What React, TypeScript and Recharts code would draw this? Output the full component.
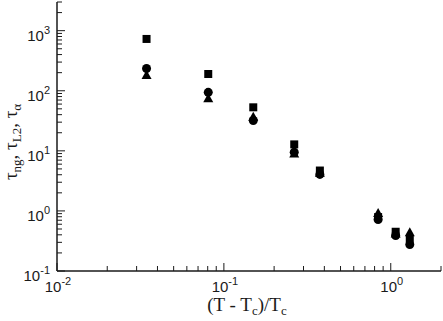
import { ScatterChart, Scatter, XAxis, YAxis, ZAxis, Label } from 'recharts';

// reduced temperature (T - Tc)/Tc
const reducedT = [0.0344, 0.0806, 0.15, 0.264, 0.376, 0.84, 1.07, 1.3];
// relaxation times, one list per marker
const squareTimes = [728, 190, 53, 12.8, 4.7, 0.79, 0.45, 0.34];
const circleTimes = [235, 94, 32, 9.5, 4.05, 0.72, 0.39, 0.275];
const triangleTimes = [182, 75, 37, 9.0, 4.3, 0.92, 0.42, 0.44];

const xTicks = [
  0.01, 0.02, 0.03, 0.04, 0.05, 0.06, 0.07, 0.08, 0.09,
  0.1, 0.2, 0.3, 0.4, 0.5, 0.6, 0.7, 0.8, 0.9,
  1, 2,
];
const yTicks = [
  0.1, 0.2, 0.3, 0.4, 0.5, 0.6, 0.7, 0.8, 0.9,
  1, 2, 3, 4, 5, 6, 7, 8, 9,
  10, 20, 30, 40, 50, 60, 70, 80, 90,
  100, 200, 300, 400, 500, 600, 700, 800, 900,
  1000, 2000, 3000,
];

const toRows = (ys: number[]) => reducedT.map((x, i) => ({ x, y: ys[i] }));

const INK = '#1a1a1a';
const SANS = '"Liberation Sans", Arial, Helvetica, sans-serif';
const SERIF = '"Liberation Serif", "Times New Roman", Times, serif';
const MAJOR = 8;
const MINOR = 5;

const exponentOf = (v: number) => {
  const e = Math.log10(v);
  return Math.abs(e - Math.round(e)) < 1e-6 ? Math.round(e) : null;
};

const Power = ({ x, y, exp, anchor }: any) => (
  <text x={x} y={y} textAnchor={anchor} fill={INK} style={{ fontFamily: SANS, fontSize: 15 }}>
    10
    <tspan dy={-7} style={{ fontSize: 11 }}>{exp}</tspan>
  </text>
);

const BottomTick = ({ x, y, payload }: any) => {
  const exp = exponentOf(payload.value);
  const len = exp !== null ? MAJOR : MINOR;
  return (
    <g>
      <line x1={x} x2={x} y1={y} y2={y - len} stroke={INK} strokeWidth={1} />
      {exp !== null && <Power x={x + 1} y={y + 21} exp={exp} anchor="middle" />}
    </g>
  );
};

const TopTick = ({ x, y, payload }: any) => {
  const len = exponentOf(payload.value) !== null ? MAJOR : MINOR;
  return <line x1={x} x2={x} y1={y} y2={y + len} stroke={INK} strokeWidth={1} />;
};

const LeftTick = ({ x, y, payload }: any) => {
  const exp = exponentOf(payload.value);
  const len = exp !== null ? MAJOR : MINOR;
  return (
    <g>
      <line x1={x} x2={x + len} y1={y} y2={y} stroke={INK} strokeWidth={1} />
      {exp !== null && <Power x={x - 7} y={y + 10} exp={exp} anchor="end" />}
    </g>
  );
};

const RightTick = ({ x, y, payload }: any) => {
  const len = exponentOf(payload.value) !== null ? MAJOR : MINOR;
  return <line x1={x} x2={x - len} y1={y} y2={y} stroke={INK} strokeWidth={1} />;
};

const SquareMark = ({ cx, cy }: any) => <rect x={cx - 4} y={cy - 4} width={8} height={8} fill="#000" />;
const CircleMark = ({ cx, cy }: any) => <circle cx={cx} cy={cy} r={4.5} fill="#000" />;
const TriangleMark = ({ cx, cy }: any) => (
  <polygon points={`${cx},${cy - 5} ${cx + 5},${cy + 4} ${cx - 5},${cy + 4}`} fill="#000" />
);

const XTitle = ({ viewBox }: any) => (
  <text x={viewBox.x + viewBox.width / 2 - 2} y={viewBox.y + 40} textAnchor="middle" fill={INK}
    style={{ fontFamily: SERIF, fontSize: 19 }}>
    (T - T<tspan dy={4} style={{ fontSize: 13 }}>c</tspan><tspan dy={-4}>)/T</tspan>
    <tspan dy={4} style={{ fontSize: 13 }}>c</tspan>
  </text>
);

const YTitle = ({ viewBox }: any) => {
  const cx = 17;
  const cy = viewBox.y + 140;
  return (
    <text x={cx} y={cy} transform={`rotate(-90 ${cx} ${cy})`} textAnchor="middle" fill={INK}
      style={{ fontFamily: SERIF, fontSize: 19 }}>
      τ<tspan dy={4} style={{ fontSize: 13 }}>ng</tspan><tspan dy={-4}>, τ</tspan>
      <tspan dy={4} style={{ fontSize: 13 }}>L2</tspan><tspan dy={-4}>, τ</tspan>
      <tspan dy={4} style={{ fontSize: 13 }}>α</tspan>
    </text>
  );
};

export default function App() {
  return (
    <div style={{ position: 'absolute', left: 0, top: 0, background: '#fff' }}>
      <ScatterChart width={443} height={321} margin={{ top: 2, right: 2, bottom: 20, left: 7 }}>
        <XAxis xAxisId="b" dataKey="x" type="number" scale="log" domain={[0.01, 2]} allowDataOverflow
          ticks={xTicks} interval={0} tickSize={0} tickMargin={0} tick={<BottomTick />} height={30}
          axisLine={{ stroke: INK, strokeWidth: 1.5 }}>
          <Label content={<XTitle />} />
        </XAxis>
        <XAxis xAxisId="t" orientation="top" dataKey="x" type="number" scale="log" domain={[0.01, 2]} allowDataOverflow
          ticks={xTicks} interval={0} tickSize={0} tickMargin={0} tick={<TopTick />} height={0}
          axisLine={{ stroke: INK, strokeWidth: 1.5 }} />
        <YAxis yAxisId="l" dataKey="y" type="number" scale="log" domain={[0.1, 3000]} allowDataOverflow
          ticks={yTicks} interval={0} tickSize={0} tickMargin={0} tick={<LeftTick />} width={50}
          axisLine={{ stroke: INK, strokeWidth: 1.5 }}>
          <Label content={<YTitle />} />
        </YAxis>
        <YAxis yAxisId="r" orientation="right" dataKey="y" type="number" scale="log" domain={[0.1, 3000]} allowDataOverflow
          ticks={yTicks} interval={0} tickSize={0} tickMargin={0} tick={<RightTick />} width={0}
          axisLine={{ stroke: INK, strokeWidth: 1.5 }} />
        <ZAxis range={[60, 60]} />
        <Scatter xAxisId="b" yAxisId="l" data={toRows(triangleTimes)} shape={<TriangleMark />} isAnimationActive={false} />
        <Scatter xAxisId="b" yAxisId="l" data={toRows(circleTimes)} shape={<CircleMark />} isAnimationActive={false} />
        <Scatter xAxisId="b" yAxisId="l" data={toRows(squareTimes)} shape={<SquareMark />} isAnimationActive={false} />
      </ScatterChart>
    </div>
  );
}
